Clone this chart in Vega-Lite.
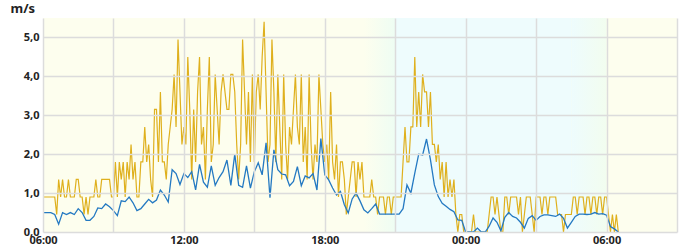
{
"$schema": "https://vega.github.io/schema/vega-lite/v6.json",
"width": 634, "height": 214,
"autosize": "none",
"padding": {"left": 43, "top": 18, "right": 23, "bottom": 18},
"background": "#ffffff",
"config": {"view": {"fill": "#fdfeee", "stroke": null}, "font": "Noto Sans"},
"datasets": {
"bands": [
{"start": "2024-06-15T19:40", "end": "2024-06-15T21:00", "kind": "dusk"},
{"start": "2024-06-15T21:00", "end": "2024-06-16T04:30", "kind": "night"},
{"start": "2024-06-16T04:30", "end": "2024-06-16T06:00", "kind": "dawn"}
],
"gust": [
{"t":"2024-06-15T06:00","v":0.9},{"t":"2024-06-15T06:05","v":0.9},{"t":"2024-06-15T06:10","v":0.9},{"t":"2024-06-15T06:15","v":0.9},{"t":"2024-06-15T06:20","v":0.9},{"t":"2024-06-15T06:25","v":0.9},{"t":"2024-06-15T06:30","v":0.9},{"t":"2024-06-15T06:35","v":0.45},{"t":"2024-06-15T06:40","v":1.35},{"t":"2024-06-15T06:45","v":0.9},{"t":"2024-06-15T06:50","v":1.35},{"t":"2024-06-15T06:55","v":0.9},
{"t":"2024-06-15T07:00","v":0.9},{"t":"2024-06-15T07:05","v":1.35},{"t":"2024-06-15T07:10","v":0.9},{"t":"2024-06-15T07:15","v":0.9},{"t":"2024-06-15T07:20","v":0.9},{"t":"2024-06-15T07:25","v":1.35},{"t":"2024-06-15T07:30","v":1.35},{"t":"2024-06-15T07:35","v":0.9},{"t":"2024-06-15T07:40","v":0.9},{"t":"2024-06-15T07:45","v":0.45},{"t":"2024-06-15T07:50","v":0.9},{"t":"2024-06-15T07:55","v":0.45},
{"t":"2024-06-15T08:00","v":0.9},{"t":"2024-06-15T08:05","v":0.9},{"t":"2024-06-15T08:10","v":0.9},{"t":"2024-06-15T08:15","v":1.35},{"t":"2024-06-15T08:20","v":0.9},{"t":"2024-06-15T08:25","v":0.9},{"t":"2024-06-15T08:30","v":1.35},{"t":"2024-06-15T08:35","v":1.35},{"t":"2024-06-15T08:40","v":1.35},{"t":"2024-06-15T08:45","v":1.35},{"t":"2024-06-15T08:50","v":1.35},{"t":"2024-06-15T08:55","v":0.9},
{"t":"2024-06-15T09:00","v":0.9},{"t":"2024-06-15T09:05","v":1.8},{"t":"2024-06-15T09:10","v":0.9},{"t":"2024-06-15T09:15","v":1.8},{"t":"2024-06-15T09:20","v":1.35},{"t":"2024-06-15T09:25","v":1.8},{"t":"2024-06-15T09:30","v":0.9},{"t":"2024-06-15T09:35","v":1.8},{"t":"2024-06-15T09:40","v":1.35},{"t":"2024-06-15T09:45","v":2.25},{"t":"2024-06-15T09:50","v":1.35},{"t":"2024-06-15T09:55","v":1.8},
{"t":"2024-06-15T10:00","v":0.9},{"t":"2024-06-15T10:05","v":0.9},{"t":"2024-06-15T10:10","v":1.8},{"t":"2024-06-15T10:15","v":1.8},{"t":"2024-06-15T10:20","v":2.7},{"t":"2024-06-15T10:25","v":1.8},{"t":"2024-06-15T10:30","v":2.25},{"t":"2024-06-15T10:35","v":1.35},{"t":"2024-06-15T10:40","v":0.9},{"t":"2024-06-15T10:45","v":3.15},{"t":"2024-06-15T10:50","v":3.15},{"t":"2024-06-15T10:55","v":1.8},
{"t":"2024-06-15T11:00","v":3.6},{"t":"2024-06-15T11:05","v":1.8},{"t":"2024-06-15T11:10","v":1.8},{"t":"2024-06-15T11:15","v":1.35},{"t":"2024-06-15T11:20","v":2.25},{"t":"2024-06-15T11:25","v":2.7},{"t":"2024-06-15T11:30","v":3.15},{"t":"2024-06-15T11:35","v":4.05},{"t":"2024-06-15T11:40","v":2.7},{"t":"2024-06-15T11:45","v":4.95},{"t":"2024-06-15T11:50","v":3.6},{"t":"2024-06-15T11:55","v":2.25},
{"t":"2024-06-15T12:00","v":2.7},{"t":"2024-06-15T12:05","v":2.25},{"t":"2024-06-15T12:10","v":4.5},{"t":"2024-06-15T12:15","v":3.15},{"t":"2024-06-15T12:20","v":1.35},{"t":"2024-06-15T12:25","v":3.15},{"t":"2024-06-15T12:30","v":1.8},{"t":"2024-06-15T12:35","v":3.6},{"t":"2024-06-15T12:40","v":4.5},{"t":"2024-06-15T12:45","v":2.25},{"t":"2024-06-15T12:50","v":2.7},{"t":"2024-06-15T12:55","v":1.35},
{"t":"2024-06-15T13:00","v":3.15},{"t":"2024-06-15T13:05","v":4.5},{"t":"2024-06-15T13:10","v":1.8},{"t":"2024-06-15T13:15","v":2.25},{"t":"2024-06-15T13:20","v":4.05},{"t":"2024-06-15T13:25","v":3.15},{"t":"2024-06-15T13:30","v":2.25},{"t":"2024-06-15T13:35","v":3.6},{"t":"2024-06-15T13:40","v":4.05},{"t":"2024-06-15T13:45","v":3.6},{"t":"2024-06-15T13:50","v":3.15},{"t":"2024-06-15T13:55","v":3.15},
{"t":"2024-06-15T14:00","v":4.05},{"t":"2024-06-15T14:05","v":4.05},{"t":"2024-06-15T14:10","v":3.6},{"t":"2024-06-15T14:15","v":2.25},{"t":"2024-06-15T14:20","v":1.35},{"t":"2024-06-15T14:25","v":2.25},{"t":"2024-06-15T14:30","v":4.95},{"t":"2024-06-15T14:35","v":3.6},{"t":"2024-06-15T14:40","v":2.25},{"t":"2024-06-15T14:45","v":3.6},{"t":"2024-06-15T14:50","v":1.8},{"t":"2024-06-15T14:55","v":4.05},
{"t":"2024-06-15T15:00","v":1.8},{"t":"2024-06-15T15:05","v":3.6},{"t":"2024-06-15T15:10","v":4.05},{"t":"2024-06-15T15:15","v":3.15},{"t":"2024-06-15T15:20","v":4.5},{"t":"2024-06-15T15:25","v":5.4},{"t":"2024-06-15T15:30","v":3.6},{"t":"2024-06-15T15:35","v":1.8},{"t":"2024-06-15T15:40","v":2.25},{"t":"2024-06-15T15:45","v":4.95},{"t":"2024-06-15T15:50","v":3.6},{"t":"2024-06-15T15:55","v":1.8},
{"t":"2024-06-15T16:00","v":4.05},{"t":"2024-06-15T16:05","v":2.7},{"t":"2024-06-15T16:10","v":1.35},{"t":"2024-06-15T16:15","v":4.05},{"t":"2024-06-15T16:20","v":2.25},{"t":"2024-06-15T16:25","v":1.35},{"t":"2024-06-15T16:30","v":2.7},{"t":"2024-06-15T16:35","v":2.25},{"t":"2024-06-15T16:40","v":3.15},{"t":"2024-06-15T16:45","v":4.05},{"t":"2024-06-15T16:50","v":2.7},{"t":"2024-06-15T16:55","v":2.25},
{"t":"2024-06-15T17:00","v":4.05},{"t":"2024-06-15T17:05","v":1.8},{"t":"2024-06-15T17:10","v":2.7},{"t":"2024-06-15T17:15","v":1.35},{"t":"2024-06-15T17:20","v":4.05},{"t":"2024-06-15T17:25","v":2.25},{"t":"2024-06-15T17:30","v":1.35},{"t":"2024-06-15T17:35","v":2.25},{"t":"2024-06-15T17:40","v":1.8},{"t":"2024-06-15T17:45","v":4.05},{"t":"2024-06-15T17:50","v":3.15},{"t":"2024-06-15T17:55","v":2.25},
{"t":"2024-06-15T18:00","v":1.8},{"t":"2024-06-15T18:05","v":2.25},{"t":"2024-06-15T18:10","v":1.35},{"t":"2024-06-15T18:15","v":3.6},{"t":"2024-06-15T18:20","v":1.8},{"t":"2024-06-15T18:25","v":1.35},{"t":"2024-06-15T18:30","v":2.25},{"t":"2024-06-15T18:35","v":0.9},{"t":"2024-06-15T18:40","v":1.8},{"t":"2024-06-15T18:45","v":1.8},{"t":"2024-06-15T18:50","v":1.35},{"t":"2024-06-15T18:55","v":0.45},
{"t":"2024-06-15T19:00","v":0.9},{"t":"2024-06-15T19:05","v":1.35},{"t":"2024-06-15T19:10","v":1.8},{"t":"2024-06-15T19:15","v":1.8},{"t":"2024-06-15T19:20","v":0.9},{"t":"2024-06-15T19:25","v":1.8},{"t":"2024-06-15T19:30","v":1.35},{"t":"2024-06-15T19:35","v":1.8},{"t":"2024-06-15T19:40","v":0.9},{"t":"2024-06-15T19:45","v":0.9},{"t":"2024-06-15T19:50","v":0.9},{"t":"2024-06-15T19:55","v":0.9},
{"t":"2024-06-15T20:00","v":1.35},{"t":"2024-06-15T20:05","v":0.9},{"t":"2024-06-15T20:10","v":0.9},{"t":"2024-06-15T20:15","v":0.45},{"t":"2024-06-15T20:20","v":0.9},{"t":"2024-06-15T20:25","v":0.9},{"t":"2024-06-15T20:30","v":0.9},{"t":"2024-06-15T20:35","v":0.45},{"t":"2024-06-15T20:40","v":0.9},{"t":"2024-06-15T20:45","v":0.9},{"t":"2024-06-15T20:50","v":0.45},{"t":"2024-06-15T20:55","v":0.9},
{"t":"2024-06-15T21:00","v":0.9},{"t":"2024-06-15T21:05","v":0.9},{"t":"2024-06-15T21:10","v":0.9},{"t":"2024-06-15T21:15","v":0.9},{"t":"2024-06-15T21:20","v":1.8},{"t":"2024-06-15T21:25","v":2.7},{"t":"2024-06-15T21:30","v":1.8},{"t":"2024-06-15T21:35","v":1.8},{"t":"2024-06-15T21:40","v":2.7},{"t":"2024-06-15T21:45","v":2.7},{"t":"2024-06-15T21:50","v":4.5},{"t":"2024-06-15T21:55","v":2.7},
{"t":"2024-06-15T22:00","v":3.6},{"t":"2024-06-15T22:05","v":2.7},{"t":"2024-06-15T22:10","v":4.05},{"t":"2024-06-15T22:15","v":3.6},{"t":"2024-06-15T22:20","v":3.6},{"t":"2024-06-15T22:25","v":2.7},{"t":"2024-06-15T22:30","v":3.6},{"t":"2024-06-15T22:35","v":2.25},{"t":"2024-06-15T22:40","v":2.25},{"t":"2024-06-15T22:45","v":1.8},{"t":"2024-06-15T22:50","v":2.25},{"t":"2024-06-15T22:55","v":1.35},
{"t":"2024-06-15T23:00","v":1.8},{"t":"2024-06-15T23:05","v":0.9},{"t":"2024-06-15T23:10","v":1.8},{"t":"2024-06-15T23:15","v":0.9},{"t":"2024-06-15T23:20","v":1.35},{"t":"2024-06-15T23:25","v":0.9},{"t":"2024-06-15T23:30","v":1.35},{"t":"2024-06-15T23:35","v":0.45},{"t":"2024-06-15T23:40","v":0},{"t":"2024-06-15T23:45","v":0.45},{"t":"2024-06-15T23:50","v":0.45},{"t":"2024-06-15T23:55","v":0},
{"t":"2024-06-16T00:00","v":0},{"t":"2024-06-16T00:05","v":0},{"t":"2024-06-16T00:10","v":0},{"t":"2024-06-16T00:15","v":0},{"t":"2024-06-16T00:20","v":0.45},{"t":"2024-06-16T00:25","v":0},{"t":"2024-06-16T00:30","v":0},{"t":"2024-06-16T00:35","v":0},{"t":"2024-06-16T00:40","v":0},{"t":"2024-06-16T00:45","v":0},{"t":"2024-06-16T00:50","v":0},{"t":"2024-06-16T00:55","v":0},
{"t":"2024-06-16T01:00","v":0.45},{"t":"2024-06-16T01:05","v":0.9},{"t":"2024-06-16T01:10","v":0.9},{"t":"2024-06-16T01:15","v":0.45},{"t":"2024-06-16T01:20","v":0.9},{"t":"2024-06-16T01:25","v":0.45},{"t":"2024-06-16T01:30","v":0},{"t":"2024-06-16T01:35","v":0},{"t":"2024-06-16T01:40","v":0.9},{"t":"2024-06-16T01:45","v":0.9},{"t":"2024-06-16T01:50","v":0.45},{"t":"2024-06-16T01:55","v":0.9},
{"t":"2024-06-16T02:00","v":0.9},{"t":"2024-06-16T02:05","v":0.9},{"t":"2024-06-16T02:10","v":0.9},{"t":"2024-06-16T02:15","v":0.45},{"t":"2024-06-16T02:20","v":0.9},{"t":"2024-06-16T02:25","v":0},{"t":"2024-06-16T02:30","v":0.45},{"t":"2024-06-16T02:35","v":0.9},{"t":"2024-06-16T02:40","v":0.9},{"t":"2024-06-16T02:45","v":0.9},{"t":"2024-06-16T02:50","v":0.45},{"t":"2024-06-16T02:55","v":0},
{"t":"2024-06-16T03:00","v":0.9},{"t":"2024-06-16T03:05","v":0.9},{"t":"2024-06-16T03:10","v":0.9},{"t":"2024-06-16T03:15","v":0.45},{"t":"2024-06-16T03:20","v":0.9},{"t":"2024-06-16T03:25","v":0.9},{"t":"2024-06-16T03:30","v":0.45},{"t":"2024-06-16T03:35","v":0.9},{"t":"2024-06-16T03:40","v":0.9},{"t":"2024-06-16T03:45","v":0.9},{"t":"2024-06-16T03:50","v":0.9},{"t":"2024-06-16T03:55","v":0.45},
{"t":"2024-06-16T04:00","v":0.45},{"t":"2024-06-16T04:05","v":0.45},{"t":"2024-06-16T04:10","v":0},{"t":"2024-06-16T04:15","v":0.45},{"t":"2024-06-16T04:20","v":0.45},{"t":"2024-06-16T04:25","v":0.45},{"t":"2024-06-16T04:30","v":0.45},{"t":"2024-06-16T04:35","v":0.9},{"t":"2024-06-16T04:40","v":0.9},{"t":"2024-06-16T04:45","v":0.45},{"t":"2024-06-16T04:50","v":0.9},{"t":"2024-06-16T04:55","v":0.9},
{"t":"2024-06-16T05:00","v":0.9},{"t":"2024-06-16T05:05","v":0.45},{"t":"2024-06-16T05:10","v":0.9},{"t":"2024-06-16T05:15","v":0.9},{"t":"2024-06-16T05:20","v":0.45},{"t":"2024-06-16T05:25","v":0.9},{"t":"2024-06-16T05:30","v":0.9},{"t":"2024-06-16T05:35","v":0.45},{"t":"2024-06-16T05:40","v":0.9},{"t":"2024-06-16T05:45","v":0.9},{"t":"2024-06-16T05:50","v":0.45},{"t":"2024-06-16T05:55","v":0.9},
{"t":"2024-06-16T06:00","v":0.9},{"t":"2024-06-16T06:05","v":0.45},{"t":"2024-06-16T06:10","v":0},{"t":"2024-06-16T06:15","v":0.45},{"t":"2024-06-16T06:20","v":0},{"t":"2024-06-16T06:25","v":0.45},{"t":"2024-06-16T06:30","v":0}
],
"avg": [
{"t":"2024-06-15T06:00","v":0.5},{"t":"2024-06-15T06:10","v":0.5},{"t":"2024-06-15T06:20","v":0.5},{"t":"2024-06-15T06:30","v":0.45},{"t":"2024-06-15T06:40","v":0.2},{"t":"2024-06-15T06:50","v":0.5},
{"t":"2024-06-15T07:00","v":0.45},{"t":"2024-06-15T07:10","v":0.5},{"t":"2024-06-15T07:20","v":0.45},{"t":"2024-06-15T07:30","v":0.6},{"t":"2024-06-15T07:40","v":0.5},{"t":"2024-06-15T07:50","v":0.3},
{"t":"2024-06-15T08:00","v":0.3},{"t":"2024-06-15T08:10","v":0.4},{"t":"2024-06-15T08:20","v":0.62},{"t":"2024-06-15T08:30","v":0.6},{"t":"2024-06-15T08:40","v":0.72},{"t":"2024-06-15T08:50","v":0.65},
{"t":"2024-06-15T09:00","v":0.55},{"t":"2024-06-15T09:10","v":0.42},{"t":"2024-06-15T09:20","v":0.8},{"t":"2024-06-15T09:30","v":0.78},{"t":"2024-06-15T09:40","v":0.9},{"t":"2024-06-15T09:50","v":0.75},
{"t":"2024-06-15T10:00","v":0.55},{"t":"2024-06-15T10:10","v":0.6},{"t":"2024-06-15T10:20","v":0.72},{"t":"2024-06-15T10:30","v":0.84},{"t":"2024-06-15T10:40","v":0.75},{"t":"2024-06-15T10:50","v":0.82},
{"t":"2024-06-15T11:00","v":1.08},{"t":"2024-06-15T11:10","v":0.95},{"t":"2024-06-15T11:20","v":0.77},{"t":"2024-06-15T11:30","v":1.6},{"t":"2024-06-15T11:40","v":1.5},{"t":"2024-06-15T11:50","v":1.22},
{"t":"2024-06-15T12:00","v":1.5},{"t":"2024-06-15T12:10","v":1.4},{"t":"2024-06-15T12:20","v":1.55},{"t":"2024-06-15T12:30","v":1.08},{"t":"2024-06-15T12:40","v":1.74},{"t":"2024-06-15T12:50","v":1.28},
{"t":"2024-06-15T13:00","v":1.15},{"t":"2024-06-15T13:10","v":1.7},{"t":"2024-06-15T13:20","v":1.2},{"t":"2024-06-15T13:30","v":1.4},{"t":"2024-06-15T13:40","v":1.55},{"t":"2024-06-15T13:50","v":1.85},
{"t":"2024-06-15T14:00","v":1.2},{"t":"2024-06-15T14:10","v":2.0},{"t":"2024-06-15T14:20","v":1.2},{"t":"2024-06-15T14:30","v":1.15},{"t":"2024-06-15T14:40","v":1.7},{"t":"2024-06-15T14:50","v":1.13},
{"t":"2024-06-15T15:00","v":1.55},{"t":"2024-06-15T15:10","v":1.78},{"t":"2024-06-15T15:20","v":1.47},{"t":"2024-06-15T15:30","v":2.29},{"t":"2024-06-15T15:40","v":0.88},{"t":"2024-06-15T15:50","v":2.11},
{"t":"2024-06-15T16:00","v":1.6},{"t":"2024-06-15T16:10","v":1.49},{"t":"2024-06-15T16:20","v":1.47},{"t":"2024-06-15T16:30","v":1.19},{"t":"2024-06-15T16:40","v":1.3},{"t":"2024-06-15T16:50","v":1.68},
{"t":"2024-06-15T17:00","v":1.19},{"t":"2024-06-15T17:10","v":1.44},{"t":"2024-06-15T17:20","v":1.39},{"t":"2024-06-15T17:30","v":1.5},{"t":"2024-06-15T17:40","v":1.08},{"t":"2024-06-15T17:50","v":2.4},
{"t":"2024-06-15T18:00","v":1.47},{"t":"2024-06-15T18:10","v":1.34},{"t":"2024-06-15T18:20","v":1.13},{"t":"2024-06-15T18:30","v":0.95},{"t":"2024-06-15T18:40","v":1.04},{"t":"2024-06-15T18:50","v":0.7},
{"t":"2024-06-15T19:00","v":0.49},{"t":"2024-06-15T19:10","v":0.85},{"t":"2024-06-15T19:20","v":1.0},{"t":"2024-06-15T19:30","v":0.8},{"t":"2024-06-15T19:40","v":0.57},{"t":"2024-06-15T19:50","v":0.49},
{"t":"2024-06-15T20:00","v":0.6},{"t":"2024-06-15T20:10","v":0.72},{"t":"2024-06-15T20:20","v":0.46},{"t":"2024-06-15T20:30","v":0.46},{"t":"2024-06-15T20:40","v":0.46},{"t":"2024-06-15T20:50","v":0.46},
{"t":"2024-06-15T21:00","v":0.46},{"t":"2024-06-15T21:10","v":0.46},{"t":"2024-06-15T21:20","v":0.6},{"t":"2024-06-15T21:30","v":1.21},{"t":"2024-06-15T21:40","v":1.0},{"t":"2024-06-15T21:50","v":1.51},
{"t":"2024-06-15T22:00","v":2.0},{"t":"2024-06-15T22:10","v":1.98},{"t":"2024-06-15T22:20","v":2.39},{"t":"2024-06-15T22:30","v":1.86},{"t":"2024-06-15T22:40","v":1.21},{"t":"2024-06-15T22:50","v":0.91},
{"t":"2024-06-15T23:00","v":0.74},{"t":"2024-06-15T23:10","v":0.66},{"t":"2024-06-15T23:20","v":0.58},{"t":"2024-06-15T23:30","v":0.52},{"t":"2024-06-15T23:40","v":0.31},{"t":"2024-06-15T23:50","v":0.3},
{"t":"2024-06-16T00:00","v":0},{"t":"2024-06-16T00:10","v":0},{"t":"2024-06-16T00:20","v":0},{"t":"2024-06-16T00:30","v":0.1},{"t":"2024-06-16T00:40","v":0},{"t":"2024-06-16T00:50","v":0},
{"t":"2024-06-16T01:00","v":0.15},{"t":"2024-06-16T01:10","v":0.36},{"t":"2024-06-16T01:20","v":0.25},{"t":"2024-06-16T01:30","v":0.03},{"t":"2024-06-16T01:40","v":0.38},{"t":"2024-06-16T01:50","v":0.5},
{"t":"2024-06-16T02:00","v":0.4},{"t":"2024-06-16T02:10","v":0.36},{"t":"2024-06-16T02:20","v":0.25},{"t":"2024-06-16T02:30","v":0.1},{"t":"2024-06-16T02:40","v":0.35},{"t":"2024-06-16T02:50","v":0.42},
{"t":"2024-06-16T03:00","v":0.3},{"t":"2024-06-16T03:10","v":0.4},{"t":"2024-06-16T03:20","v":0.44},{"t":"2024-06-16T03:30","v":0.44},{"t":"2024-06-16T03:40","v":0.42},{"t":"2024-06-16T03:50","v":0.4},
{"t":"2024-06-16T04:00","v":0.46},{"t":"2024-06-16T04:10","v":0.35},{"t":"2024-06-16T04:20","v":0.1},{"t":"2024-06-16T04:30","v":0.25},{"t":"2024-06-16T04:40","v":0.4},{"t":"2024-06-16T04:50","v":0.46},
{"t":"2024-06-16T05:00","v":0.46},{"t":"2024-06-16T05:10","v":0.45},{"t":"2024-06-16T05:20","v":0.46},{"t":"2024-06-16T05:30","v":0.5},{"t":"2024-06-16T05:40","v":0.46},{"t":"2024-06-16T05:50","v":0.47},
{"t":"2024-06-16T06:00","v":0.43},{"t":"2024-06-16T06:10","v":0.14},{"t":"2024-06-16T06:20","v":0.08},{"t":"2024-06-16T06:30","v":0}
]
},
"layer": [
{"data": {"name": "bands"}, "transform": [{"filter": "datum.kind === 'dusk'"}],
 "mark": {"type": "rect", "fill": {"gradient": "linear", "x1": 0, "x2": 1, "y1": 0, "y2": 0, "stops": [{"offset": 0, "color": "#fdfeee"}, {"offset": 1, "color": "#eefdf3"}]}},
 "encoding": {"x": {"field": "start", "type": "temporal"}, "x2": {"field": "end"}}},
{"data": {"name": "bands"}, "transform": [{"filter": "datum.kind === 'night'"}],
 "mark": {"type": "rect", "fill": "#eefcfd"},
 "encoding": {"x": {"field": "start", "type": "temporal"}, "x2": {"field": "end"}}},
{"data": {"name": "bands"}, "transform": [{"filter": "datum.kind === 'dawn'"}],
 "mark": {"type": "rect", "fill": {"gradient": "linear", "x1": 0, "x2": 1, "y1": 0, "y2": 0, "stops": [{"offset": 0, "color": "#eefcfd"}, {"offset": 1, "color": "#f2fdef"}]}},
 "encoding": {"x": {"field": "start", "type": "temporal"}, "x2": {"field": "end"}}},
{"data": {"name": "gust"},
 "mark": {"type": "line", "color": "#dfb01d", "strokeWidth": 1.2},
 "encoding": {
  "x": {"field": "t", "type": "temporal",
   "scale": {"domain": [{"year": 2024, "month": 6, "date": 15, "hours": 6}, {"year": 2024, "month": 6, "date": 16, "hours": 9}]},
   "axis": {"title": null, "domain": false, "ticks": false, "grid": true, "gridColor": "#dcdcdc", "gridWidth": 1.5, "zindex": 1,
    "values": [{"year": 2024, "month": 6, "date": 15, "hours": 6}, {"year": 2024, "month": 6, "date": 15, "hours": 9}, {"year": 2024, "month": 6, "date": 15, "hours": 12}, {"year": 2024, "month": 6, "date": 15, "hours": 15}, {"year": 2024, "month": 6, "date": 15, "hours": 18}, {"year": 2024, "month": 6, "date": 15, "hours": 21}, {"year": 2024, "month": 6, "date": 16, "hours": 0}, {"year": 2024, "month": 6, "date": 16, "hours": 3}, {"year": 2024, "month": 6, "date": 16, "hours": 6}, {"year": 2024, "month": 6, "date": 16, "hours": 9}],
    "labelExpr": "hours(datum.value) % 6 === 0 && datum.value < datetime(2024, 5, 16, 7) ? timeFormat(datum.value, '%H:%M') : ''",
    "labelFont": "Noto Sans", "labelFontSize": 11, "labelFontWeight": "bold", "labelColor": "#222222", "labelPadding": 2, "labelFlush": false, "labelOverlap": false}},
  "y": {"field": "v", "type": "quantitative",
   "scale": {"domain": [0, 5.5], "nice": false, "zero": true},
   "axis": {"title": "m/s", "titleAngle": 0, "titleAlign": "left", "titleBaseline": "middle", "titleX": -33, "titleY": -10, "titleFont": "Noto Sans", "titleFontSize": 13, "titleFontWeight": "bold", "titleColor": "#222222",
    "domain": false, "ticks": false, "grid": true, "gridColor": "#dcdcdc", "gridWidth": 1.5, "zindex": 1,
    "values": [0, 0.5, 1, 1.5, 2, 2.5, 3, 3.5, 4, 4.5, 5, 5.5],
    "labelExpr": "datum.value % 1 === 0 ? replace(format(datum.value, '.1f'), '.', ',') : ''",
    "labelFont": "Noto Sans", "labelFontSize": 11, "labelFontWeight": "bold", "labelColor": "#222222", "labelPadding": 4, "labelOverlap": false}}
 }},
{"data": {"name": "avg"},
 "mark": {"type": "line", "color": "#2479c2", "strokeWidth": 1.3},
 "encoding": {"x": {"field": "t", "type": "temporal"}, "y": {"field": "v", "type": "quantitative"}}}
]
}
